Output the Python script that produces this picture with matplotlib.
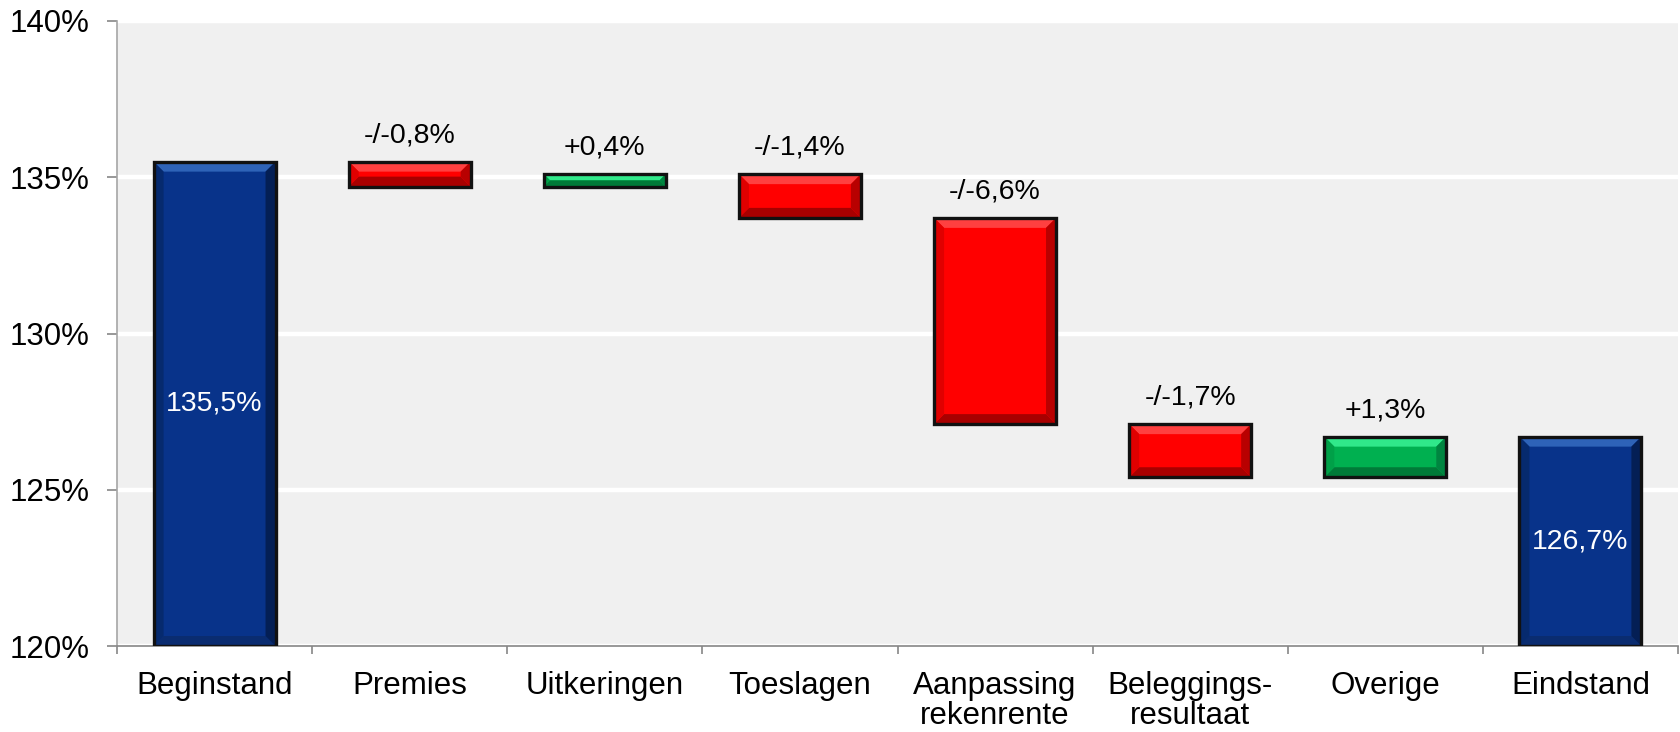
import matplotlib
matplotlib.use("Agg")
import matplotlib.pyplot as plt
from matplotlib.patches import Polygon

# ---- data ----
categories = ["Beginstand", "Premies", "Uitkeringen", "Toeslagen",
              "Aanpassing\nrekenrente", "Beleggings-\nresultaat", "Overige", "Eindstand"]
start_value = 135.5
changes = [-0.8, 0.4, -1.4, -6.6, -1.7, 1.3]
end_value = 126.7
value_labels = ["135,5%", "-/-0,8%", "+0,4%", "-/-1,4%", "-/-6,6%", "-/-1,7%", "+1,3%", "126,7%"]
yticks = [120, 125, 130, 135, 140]
ytick_labels = ["120%", "125%", "130%", "135%", "140%"]
y_min, y_max = 120, 140

plt.rcParams['font.family'] = ['Liberation Sans', 'DejaVu Sans']

# shades: base, top, bottom, left, right
shades = {
    "total": ("#08338A", "#2E63B8", "#0A2C70", "#062A6E", "#041F55"),
    "neg":   ("#FF0000", "#FF4040", "#A80000", "#E00000", "#B80000"),
    "pos":   ("#00B050", "#30E88A", "#007A38", "#00A048", "#008540"),
}

# compute bars
bottoms, tops, kinds = [], [], []
bottoms.append(y_min); tops.append(start_value); kinds.append("total")
running = start_value
for d in changes:
    new = running + d
    bottoms.append(min(running, new)); tops.append(max(running, new))
    kinds.append("neg" if d < 0 else "pos")
    running = new
bottoms.append(y_min); tops.append(end_value); kinds.append("total")

fig = plt.figure(figsize=(16.8, 7.32), dpi=100)
ax = fig.add_axes([117/1680, 86/732, (1678-117)/1680, (646-21)/732])
ax.set_facecolor("#F0F0F0")
ax.set_xlim(-0.5, len(categories) - 0.5)
ax.set_ylim(y_min, y_max)

ax.set_axisbelow(True)
ax.yaxis.grid(True, color="white", linewidth=3.2)
ax.xaxis.grid(False)

xs = list(range(len(categories)))
width = 0.625
heights = [t - b for t, b in zip(tops, bottoms)]
face_colors = [shades[k][0] for k in kinds]
bars = ax.bar(xs, heights, bottom=bottoms, width=width, color=face_colors,
              edgecolor="none", zorder=2)

fig.canvas.draw()
inv = ax.transData.inverted()

for rect, k in zip(bars, kinds):
    base, ctop, cbot, cleft, cright = shades[k]
    x0d, y0d = rect.get_x(), rect.get_y()
    x1d, y1d = x0d + rect.get_width(), y0d + rect.get_height()
    (x0, y0), (x1, y1) = ax.transData.transform([(x0d, y0d), (x1d, y1d)])
    b = min(10.0, (y1 - y0) / 2.0, (x1 - x0) / 2.0)
    polys = [
        ([(x0, y1), (x1, y1), (x1 - b, y1 - b), (x0 + b, y1 - b)], ctop),
        ([(x0, y0), (x1, y0), (x1 - b, y0 + b), (x0 + b, y0 + b)], cbot),
        ([(x0, y0), (x0 + b, y0 + b), (x0 + b, y1 - b), (x0, y1)], cleft),
        ([(x1, y0), (x1 - b, y0 + b), (x1 - b, y1 - b), (x1, y1)], cright),
    ]
    for pts, c in polys:
        ax.add_patch(Polygon(inv.transform(pts), closed=True, facecolor=c,
                             edgecolor="none", zorder=3))

# outlines
ax.bar(xs, heights, bottom=bottoms, width=width, fill=False,
       edgecolor="#111111", linewidth=2.4, zorder=4)

# labels
for i, (lab, b, t, k) in enumerate(zip(value_labels, bottoms, tops, kinds)):
    if k == "total":
        ax.text(i, (b + t) / 2, lab, ha="center", va="center", color="white",
                fontsize=20.5, zorder=5)
    else:
        ax.annotate(lab, (i, t), xytext=(0, 19), textcoords="offset points",
                    ha="center", va="center", color="black", fontsize=20.5, zorder=5)

# axes styling
for s in ["top", "right"]:
    ax.spines[s].set_visible(False)
ax.spines["left"].set_color("#A6A6A6")
ax.spines["bottom"].set_color("#868686")
ax.spines["left"].set_linewidth(1.2)
ax.spines["bottom"].set_linewidth(1.2)

ax.set_yticks(yticks)
ax.set_yticklabels(ytick_labels, fontsize=22.5)
ax.tick_params(axis="y", length=7, color="#868686", width=1.2, pad=13)

ax.set_xticks(xs)
ax.set_xticklabels(categories, fontsize=22.5, linespacing=1.0)
ax.set_xticks([x - 0.5 for x in range(len(categories) + 1)], minor=True)
ax.tick_params(axis="x", which="major", length=0, pad=18)
ax.tick_params(axis="x", which="minor", length=6, color="#868686", width=1.2)

fig.savefig("out.png", dpi=100)
